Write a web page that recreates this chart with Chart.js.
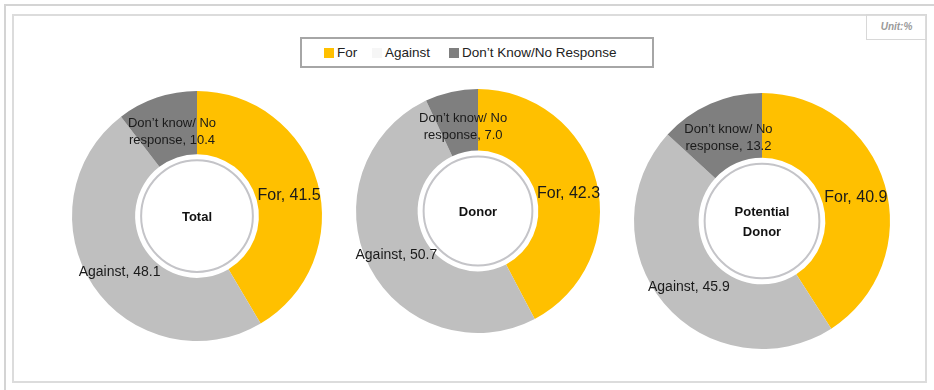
<!DOCTYPE html>
<html>
<head>
<meta charset="utf-8">
<script src="https://cdn.jsdelivr.net/npm/chart.js@4"></script>
<style>
  body { margin: 0; background: #fff; width: 934px; height: 390px; overflow: hidden; font-family: "Liberation Sans", Arial, sans-serif; }
  #outer { position: absolute; left: 4px; top: 4px; width: 934px; height: 390px; border: 2px solid #d4d4d4; box-sizing: border-box; }
  #inner { position: absolute; left: 12px; top: 14px; width: 915px; height: 369px; border: 2px solid #dcdcdc; box-sizing: border-box; }
  #unit { position: absolute; left: 866px; top: 14px; width: 61px; height: 26px; border: 1px solid #d8d8d8; box-sizing: border-box;
          font-size: 10px; font-style: italic; font-weight: bold; color: #9a9a9a; text-align: center; line-height: 24px; }
  #legend { position: absolute; left: 300px; top: 37px; width: 354px; height: 31px; border: 2px solid #a6a6a6; box-sizing: border-box;
            font-size: 13.5px; color: #222; }
  #legend span.item { position: absolute; top: 6px; white-space: nowrap; }
  #legend i { display: inline-block; width: 10px; height: 10px; margin-right: 3px; vertical-align: -1px; }
  canvas { position: absolute; }
</style>
</head>
<body>
<div id="outer"></div>
<div id="inner"></div>
<div id="unit">Unit:%</div>
<div id="legend"></div>
<canvas id="c0"></canvas>
<canvas id="c1"></canvas>
<canvas id="c2"></canvas>
<script>
  const categories = ["For", "Against", "Don't Know/No Response"];
  const sliceNames = ["For", "Against", "Don\u2019t know/ No response"];
  const groups = ["Total", "Donor", "Potential Donor"];
  const totalValues = [41.5, 48.1, 10.4];
  const donorValues = [42.3, 50.7, 7.0];
  const potentialValues = [40.9, 45.9, 13.2];
  const colors = ["#ffc000", "#bfbfbf", "#7f7f7f"];
  const legendColors = ["#ffc000", "#f6f6f6", "#7f7f7f"];

  // legend
  const legendX = [22, 70, 147];
  const legendBox = document.getElementById("legend");
  categories.forEach((c, i) => {
    const s = document.createElement("span");
    s.className = "item";
    s.style.left = legendX[i] + "px";
    s.innerHTML = `<i style="background:${legendColors[i]}"></i>${c.replace("'", "\u2019")}`;
    legendBox.appendChild(s);
  });

  const pad = 50;
  const charts = [
    { id: "c0", values: totalValues, cx: 197, cy: 216, r: 125, title: ["Total"] },
    { id: "c1", values: donorValues, cx: 478, cy: 211, r: 122, title: ["Donor"] },
    { id: "c2", values: potentialValues, cx: 762, cy: 221, r: 128, title: ["Potential", "Donor"] }
  ];

  const labelPlugin = {
    id: "labels",
    afterDatasetsDraw(chart) {
      const ctx = chart.ctx;
      const meta = chart.getDatasetMeta(0);
      const vals = chart.data.datasets[0].data;
      ctx.save();
      ctx.fillStyle = "#1a1a1a";
      ctx.textAlign = "center";
      ctx.textBaseline = "middle";
      meta.data.forEach((arc, i) => {
        const p = arc.tooltipPosition();
        const v = vals[i].toFixed(1);
        if (i === 0) {
          ctx.font = "16px 'Liberation Sans', Arial, sans-serif";
          ctx.fillText(sliceNames[0] + ", " + v, p.x + 2, p.y + 4);
        } else if (i === 1) {
          ctx.font = "14px 'Liberation Sans', Arial, sans-serif";
          ctx.fillText(sliceNames[1] + ", " + v, p.x, p.y + 4);
        } else {
          ctx.font = "13px 'Liberation Sans', Arial, sans-serif";
          ctx.fillText("Don\u2019t know/ No", p.x + 5, p.y - 4);
          ctx.fillText("response, " + v, p.x + 5, p.y + 13);
        }
      });
      // centre ring and title
      const a = meta.data[0];
      ctx.beginPath();
      ctx.arc(a.x, a.y, a.innerRadius - 6, 0, Math.PI * 2);
      ctx.lineWidth = 2;
      ctx.strokeStyle = "#c4c4c8";
      ctx.stroke();
      const t = chart.options.plugins.labels.title;
      ctx.font = "bold 13px 'Liberation Sans', Arial, sans-serif";
      ctx.fillStyle = "#111";
      t.forEach((line, j) => {
        ctx.fillText(line, a.x, a.y + 1 + (j - (t.length - 1) / 2) * 20);
      });
      ctx.restore();
    }
  };

  charts.forEach(c => {
    const el = document.getElementById(c.id);
    el.width = 2 * (c.r + pad);
    el.height = 2 * (c.r + pad);
    el.style.left = (c.cx - c.r - pad) + "px";
    el.style.top = (c.cy - c.r - pad) + "px";
    new Chart(el, {
      type: "doughnut",
      data: {
        labels: categories,
        datasets: [{ data: c.values, backgroundColor: colors, borderWidth: 0, hoverOffset: 0 }]
      },
      options: {
        responsive: false,
        animation: false,
        cutout: "49.5%",
        layout: { padding: pad },
        plugins: { legend: { display: false }, tooltip: { enabled: false }, labels: { title: c.title } }
      },
      plugins: [labelPlugin]
    });
  });
</script>
</body>
</html>
